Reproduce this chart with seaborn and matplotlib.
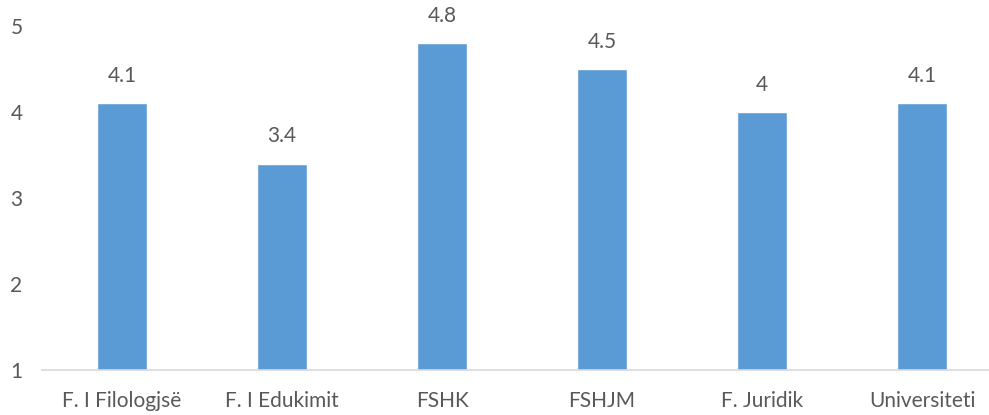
import matplotlib
matplotlib.use("Agg")
import matplotlib.pyplot as plt
import seaborn as sns
import pandas as pd

# Chart data
faculties = ["F. I Filologjsë", "F. I Edukimit", "FSHK", "FSHJM", "F. Juridik", "Universiteti"]
scores = [4.1, 3.4, 4.8, 4.5, 4.0, 4.1]
y_ticks = [1, 2, 3, 4, 5]

df = pd.DataFrame({"faculty": faculties, "score": scores})

sns.set_style("white")
plt.rcParams["font.family"] = ["Lato", "DejaVu Sans"]

text_color = "#595959"
bar_color = "#5B9BD5"

fig = plt.figure(figsize=(9.89, 4.15), dpi=100)
ax = fig.add_axes([0.0425, 0.1084, 0.9706, 0.8289])

sns.barplot(data=df, x="faculty", y="score", color=bar_color, width=0.31,
            saturation=1, ax=ax, bottom=0)

ax.set_ylim(1, 5)
ax.set_yticks(y_ticks)
ax.set_xlabel("")
ax.set_ylabel("")

for s in ["top", "right", "left"]:
    ax.spines[s].set_visible(False)
ax.spines["bottom"].set_color("#D9D9D9")
ax.spines["bottom"].set_linewidth(1.2)

ax.tick_params(axis="both", length=0, labelsize=15, colors=text_color)
ax.tick_params(axis="x", pad=15)
ax.tick_params(axis="y", pad=14)

# value labels above bars
for p, v in zip(ax.patches, scores):
    ax.text(p.get_x() + p.get_width() / 2, v + 0.2, f"{v:g}", ha="center",
            va="bottom", fontsize=15, color=text_color)

fig.savefig("out.png", dpi=100)
